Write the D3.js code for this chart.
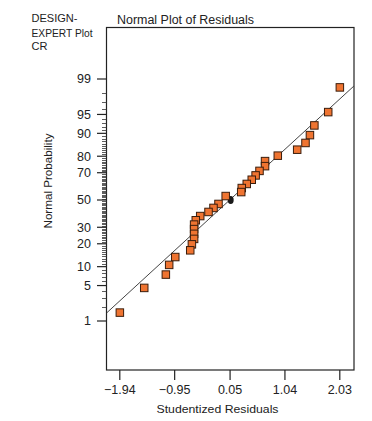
<!DOCTYPE html>
<html>
<head>
<meta charset="utf-8">
<script src="https://cdn.jsdelivr.net/npm/d3@7"></script>
<style>
  body { margin: 0; background: #fff; }
  svg text { font-family: "Liberation Sans", Arial, sans-serif; fill: #222; }
</style>
</head>
<body>
<svg id="chart" width="372" height="421"></svg>
<script>
// studentized residuals, sorted high to low, with the normal probability (%) each one sits at
var residuals = [2.04, 1.83, 1.58, 1.50, 1.42, 1.27, 0.92, 0.69, 0.69, 0.59, 0.52,
    0.45, 0.36, 0.27, 0.26, -0.02, -0.15, -0.24, -0.33, -0.48, -0.56, -0.59,
    -0.59, -0.59, -0.59, -0.63, -0.66, -0.93, -1.04, -1.10, -1.49, -1.93];
var probs = [98.48, 95.45, 92.42, 89.39, 86.36, 83.33, 80.30, 77.27, 74.24, 71.21, 68.18,
    65.15, 62.12, 59.09, 56.06, 53.03, 46.97, 43.94, 40.91, 37.88, 34.85, 31.82,
    28.79, 25.76, 22.73, 19.70, 16.67, 13.64, 10.61, 7.58, 4.55, 1.52];

// highlighted run (black dot) at the median
var highlight = { res: 0.07, p: 50 };

// fitted normal line, two end points [residual, prob %]
var fitLine = [[-2.17, 1.49], [2.30, 98.6]];

var xTicks = [-1.94, -0.95, 0.05, 1.04, 2.03];
var yTicks = [1, 5, 10, 20, 30, 50, 70, 80, 90, 95, 99];

var MARGINS = { left: 106.5, right: 18, top: 27.5, bottom: 51 };
var WIDTH = 372, HEIGHT = 421;

/**
 * inverse of the standard normal cdf (Acklam), used as the probability scale transform
 */
function probit(p) {
    var a = [-3.969683028665376e+01, 2.209460984245205e+02, -2.759285104469687e+02, 1.383577518672690e+02, -3.066479806614716e+01, 2.506628277459239e+00];
    var b = [-5.447609879822406e+01, 1.615858368580409e+02, -1.556989798598866e+02, 6.680131188771972e+01, -1.328068155288572e+01];
    var c = [-7.784894002430293e-03, -3.223964580411365e-01, -2.400758277161838e+00, -2.549732539343734e+00, 4.374664141464968e+00, 2.938163982698783e+00];
    var d = [7.784695709041462e-03, 3.224671290700398e-01, 2.445134137142996e+00, 3.754408661907416e+00];
    var pl = 0.02425, q, r;
    if (p < pl) {
        q = Math.sqrt(-2 * Math.log(p));
        return (((((c[0] * q + c[1]) * q + c[2]) * q + c[3]) * q + c[4]) * q + c[5]) / ((((d[0] * q + d[1]) * q + d[2]) * q + d[3]) * q + 1);
    } else if (p <= 1 - pl) {
        q = p - 0.5; r = q * q;
        return (((((a[0] * r + a[1]) * r + a[2]) * r + a[3]) * r + a[4]) * r + a[5]) * q / (((((b[0] * r + b[1]) * r + b[2]) * r + b[3]) * r + b[4]) * r + 1);
    }
    q = Math.sqrt(-2 * Math.log(1 - p));
    return -(((((c[0] * q + c[1]) * q + c[2]) * q + c[3]) * q + c[4]) * q + c[5]) / ((((d[0] * q + d[1]) * q + d[2]) * q + d[3]) * q + 1);
}

var svg = d3.select("#chart");

var xRange = d3.scaleLinear().domain([-1.94, 2.03]).range([119.3, 339.3]);
var zRange = d3.scaleLinear().domain([probit(0.01), probit(0.99)]).range([321, 79]);
var yPos = function (pct) { return zRange(probit(pct / 100)); };

var plotLeft = MARGINS.left, plotRight = WIDTH - MARGINS.right;
var plotTop = MARGINS.top, plotBottom = HEIGHT - MARGINS.bottom;

svg.append("defs").append("clipPath").attr("id", "clip")
    .append("rect")
    .attr("x", plotLeft).attr("y", plotTop)
    .attr("width", plotRight - plotLeft).attr("height", plotBottom - plotTop);

// frame
svg.append("rect")
    .attr("x", plotLeft).attr("y", plotTop)
    .attr("width", plotRight - plotLeft).attr("height", plotBottom - plotTop)
    .attr("fill", "none").attr("stroke", "#222").attr("stroke-width", 1.2);

// x axis
var xAxis = d3.axisBottom(xRange).tickValues(xTicks).tickSize(10).tickPadding(5)
    .tickFormat(d3.format(".2f"));
var gx = svg.append("g").attr("transform", "translate(0," + plotBottom + ")").call(xAxis);
gx.select(".domain").remove();
gx.selectAll("line").attr("stroke", "#222").attr("stroke-width", 1.2);
gx.selectAll("text").attr("font-size", 12.5).attr("fill", "#333").attr("font-family", "\"Liberation Sans\", Arial, sans-serif");

// y axis: minor ticks every percent inside the major grid
var minorTicks = d3.range(2, 99).filter(function (v) { return yTicks.indexOf(v) < 0; });
svg.append("g").selectAll("line").data(minorTicks).enter().append("line")
    .attr("x1", plotLeft - 4.5).attr("x2", plotLeft)
    .attr("y1", function (d) { return Math.round(yPos(d)) + 0.5; })
    .attr("y2", function (d) { return Math.round(yPos(d)) + 0.5; })
    .attr("stroke", "#333").attr("stroke-width", 0.8);

var yMajor = svg.append("g");
yMajor.selectAll("line").data(yTicks).enter().append("line")
    .attr("x1", plotLeft - 9.5).attr("x2", plotLeft)
    .attr("y1", function (d) { return yPos(d); })
    .attr("y2", function (d) { return yPos(d); })
    .attr("stroke", "#222").attr("stroke-width", 1.2);
yMajor.selectAll("text").data(yTicks).enter().append("text")
    .attr("x", 91).attr("y", function (d) { return yPos(d); })
    .attr("dy", "0.35em").attr("text-anchor", "end")
    .attr("font-size", 12.5).attr("fill", "#333")
    .text(function (d) { return d; });

// fitted line
var lineFunc = d3.line()
    .x(function (d) { return xRange(d[0]); })
    .y(function (d) { return yPos(d[1]); });
svg.append("path").datum(fitLine)
    .attr("clip-path", "url(#clip)")
    .attr("d", lineFunc)
    .attr("fill", "none").attr("stroke", "#444").attr("stroke-width", 1);

// highlighted point
svg.append("ellipse")
    .attr("cx", xRange(highlight.res)).attr("cy", yPos(highlight.p))
    .attr("rx", 3).attr("ry", 4)
    .attr("fill", "#1a1a1a");

// residual squares
var pts = residuals.map(function (r, i) { return [r, probs[i]]; });
var S = 7.5;
svg.append("g").selectAll("rect").data(pts).enter().append("rect")
    .attr("x", function (d) { return xRange(d[0]) - S / 2; })
    .attr("y", function (d) { return yPos(d[1]) - S / 2; })
    .attr("width", S).attr("height", S)
    .attr("fill", "#ef7431").attr("stroke", "#3a1d0c").attr("stroke-width", 1);

// labels
svg.append("text").attr("x", 117).attr("y", 24)
    .attr("font-size", 12).attr("textLength", 137).attr("lengthAdjust", "spacingAndGlyphs")
    .text("Normal Plot of Residuals");

var info = [["DESIGN-", 21.5, 46], ["EXPERT Plot", 37, 61], ["CR", 49.5, 16]];
svg.selectAll(".info").data(info).enter().append("text")
    .attr("class", "info")
    .attr("x", 31.5).attr("y", function (d) { return d[1]; })
    .attr("font-size", 11.5)
    .attr("textLength", function (d) { return d[2]; }).attr("lengthAdjust", "spacingAndGlyphs")
    .text(function (d) { return d[0]; });

svg.append("text")
    .attr("x", 217.5).attr("y", 413)
    .attr("text-anchor", "middle").attr("font-size", 11.5)
    .attr("textLength", 122).attr("lengthAdjust", "spacingAndGlyphs")
    .text("Studentized Residuals");

svg.append("text")
    .attr("transform", "translate(52,181) rotate(-90)")
    .attr("text-anchor", "middle").attr("font-size", 11.5)
    .attr("textLength", 95).attr("lengthAdjust", "spacingAndGlyphs")
    .text("Normal Probability");
</script>
</body>
</html>
